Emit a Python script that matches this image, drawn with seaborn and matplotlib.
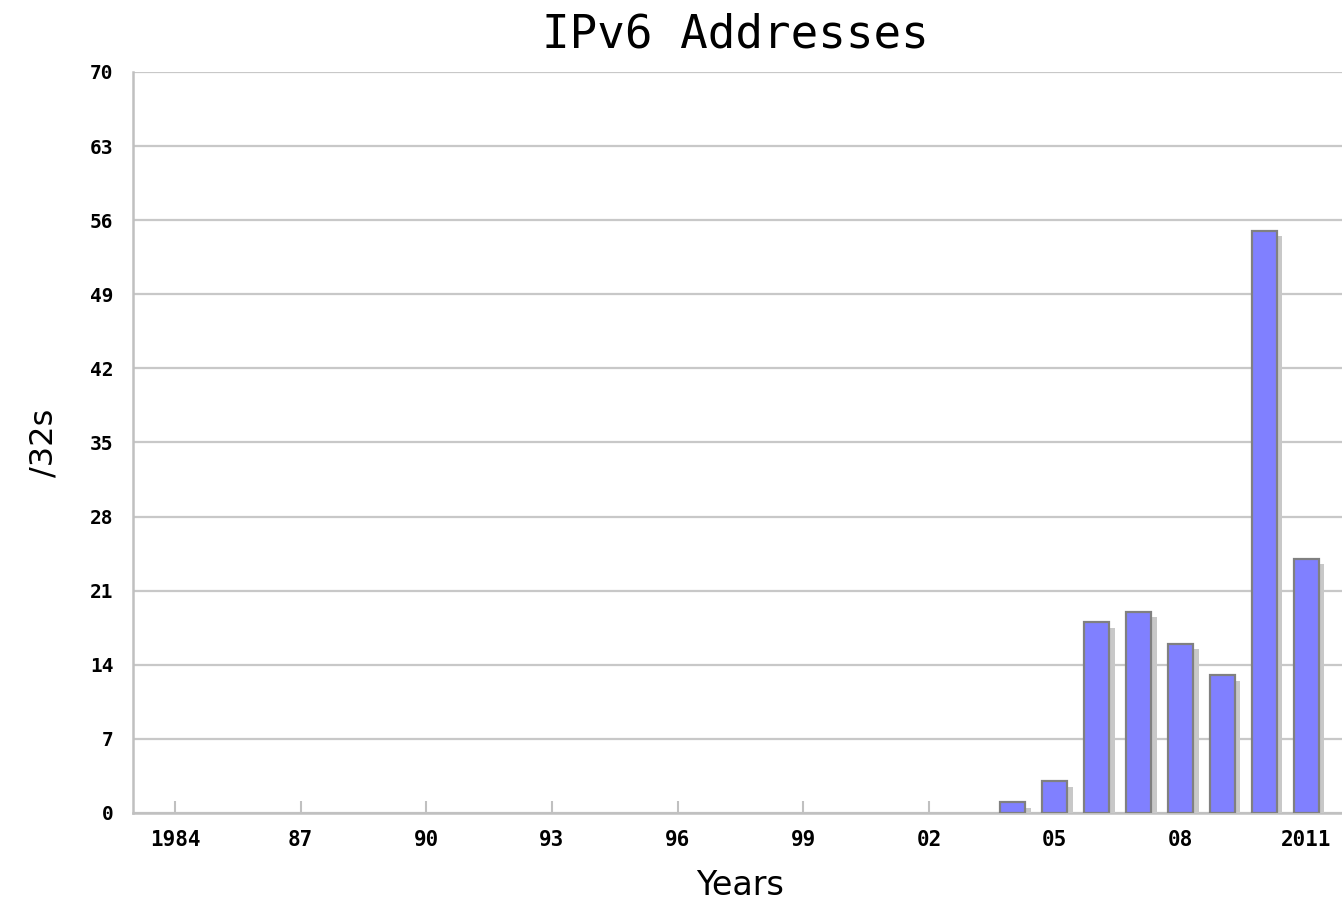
import numpy as np
import matplotlib
matplotlib.use('Agg')
import matplotlib.pyplot as plt
import matplotlib.patheffects as pe
import seaborn as sns

# Dados (alocações IPv6, em /32s)
years = [2004, 2005, 2006, 2007, 2008, 2009, 2010, 2011]
allocs = [1, 3, 18, 19, 16, 13, 55, 24]
tick_years = [1984, 1987, 1990, 1993, 1996, 1999, 2002, 2005, 2008, 2011]
tick_labels = ['1984', '87', '90', '93', '96', '99', '02', '05', '08', '2011']
y_ticks = [0, 7, 14, 21, 28, 35, 42, 49, 56, 63, 70]

sns.set_style('white')
plt.rcParams['font.family'] = ['DejaVu Sans']
plt.rcParams['text.color'] = 'black'
plt.rcParams['axes.labelcolor'] = 'black'
plt.rcParams['xtick.color'] = 'black'
plt.rcParams['ytick.color'] = 'black'

fig = plt.figure(figsize=(13.42, 9.07), dpi=100)
ax = fig.add_axes([133 / 1342, 94 / 907, 1215 / 1342, 741 / 907])

sns.barplot(x=years, y=allocs, native_scale=True, width=0.6,
            color='#8080ff', saturation=1, edgecolor='#808080',
            linewidth=1.6, ax=ax, zorder=3)

# sombra cinza atrás das barras
for p in ax.patches:
    p.set_path_effects([pe.SimplePatchShadow(offset=(4, -4), shadow_rgbFace='#c8c8c8', alpha=1),
                        pe.Normal()])

ax.set_xlim(1983, 2012)
ax.set_ylim(0, 70)
ax.set_yticks(y_ticks)
ax.set_yticklabels([str(v) for v in y_ticks], family='DejaVu Sans Mono',
                   fontweight='bold', fontsize=14)
ax.set_xticks(tick_years)
ax.set_xticklabels(tick_labels, family='DejaVu Sans Mono', fontweight='bold', fontsize=15)

ax.grid(axis='y', color='#c8c8c8', linewidth=1.6, zorder=0)
ax.set_axisbelow(True)
ax.tick_params(axis='x', bottom=True, direction='in', length=9, width=1.5,
               color='#c0c0c0', labelcolor='black', pad=12)
ax.tick_params(axis='y', length=0, pad=14, labelcolor='black')

for side in ['top', 'right']:
    ax.spines[side].set_visible(False)
for side in ['left', 'bottom']:
    ax.spines[side].set_color('#c0c0c0')
    ax.spines[side].set_linewidth(1.8)

ax.set_xlabel('Years', fontsize=24, labelpad=14)
ax.set_ylabel('/32s', fontsize=23, labelpad=22)
fig.text(735 / 1342, 1 - 35 / 907, 'IPv6 Addresses', ha='center', va='center',
         family='DejaVu Sans Mono', fontsize=33)

fig.savefig('out.png', dpi=100)
